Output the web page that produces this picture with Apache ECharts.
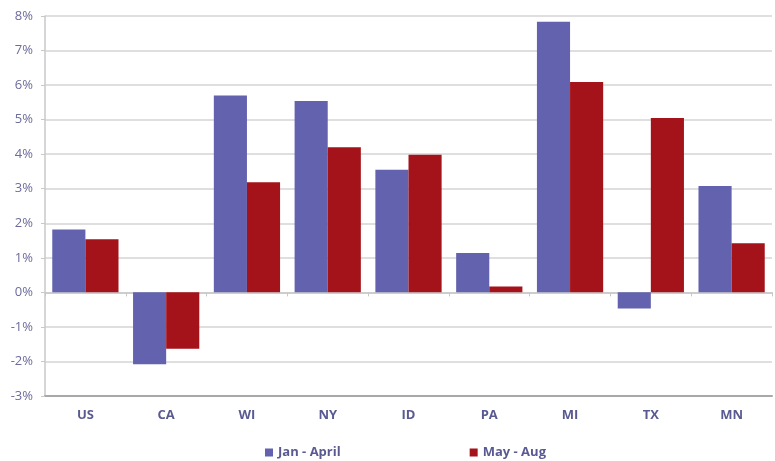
<!DOCTYPE html>
<html><head><meta charset="utf-8">
<script src="https://cdn.jsdelivr.net/npm/echarts@6/dist/echarts.min.js"></script>
<style>html,body{margin:0;padding:0;background:#fff}#c{width:775px;height:461px}</style>
</head><body><div id="c"></div>
<script>
const categories = ['US','CA','WI','NY','ID','PA','MI','TX','MN'];
const janApril = [1.82, -2.08, 5.70, 5.54, 3.55, 1.14, 7.83, -0.47, 3.08];
const mayAug = [1.54, -1.63, 3.19, 4.20, 3.98, 0.17, 6.09, 5.05, 1.42];
const seriesNames = ['Jan - April', 'May - Aug'];
const chart = echarts.init(document.getElementById('c'));
const font = 'Open Sans';
chart.setOption({
  animation: false,
  textStyle: {fontFamily: font},
  grid: {left: 45, right: 3, top: 16, bottom: 65, containLabel: false},
  legend: {
    data: seriesNames, left: 260, top: 441, itemWidth: 8, itemHeight: 8, itemGap: 129,
    icon: 'rect',
    textStyle: {fontFamily: font, fontSize: 13, fontWeight: 'bold', color: '#5a5a92'}
  },
  xAxis: [{
    type: 'category', data: categories, position: 'bottom',
    axisLine: {onZero: false, lineStyle: {color: '#a8a8a8', width: 2}},
    axisTick: {show: false},
    axisLabel: {fontFamily: font, fontSize: 13, fontWeight: 'bold', color: '#5a5a92', margin: 13}
  }, {
    type: 'category', data: categories, position: 'bottom',
    axisLine: {onZero: true, lineStyle: {color: '#c8c8c8', width: 1.5}},
    axisTick: {show: true, inside: false, length: 4, lineStyle: {color: '#c8c8c8'}},
    axisLabel: {show: false}
  }],
  yAxis: {
    type: 'value', min: -3, max: 8, interval: 1,
    axisLine: {show: true, lineStyle: {color: '#c8c8c8', width: 1.5}},
    axisTick: {show: true, length: 4, lineStyle: {color: '#c8c8c8'}},
    axisLabel: {formatter: '{value}%', fontFamily: font, fontSize: 13, color: '#6b6b9c', margin: 12},
    splitLine: {lineStyle: {color: '#d4d4d4', width: 1.5}}
  },
  series: [{
    name: seriesNames[0], type: 'bar', data: janApril, barGap: '0%', barCategoryGap: '18%',
    itemStyle: {color: '#6262ae'}
  }, {
    name: seriesNames[1], type: 'bar', data: mayAug, barGap: '0%', barCategoryGap: '18%',
    itemStyle: {color: '#a5131a'}
  }]
});
</script></body></html>
